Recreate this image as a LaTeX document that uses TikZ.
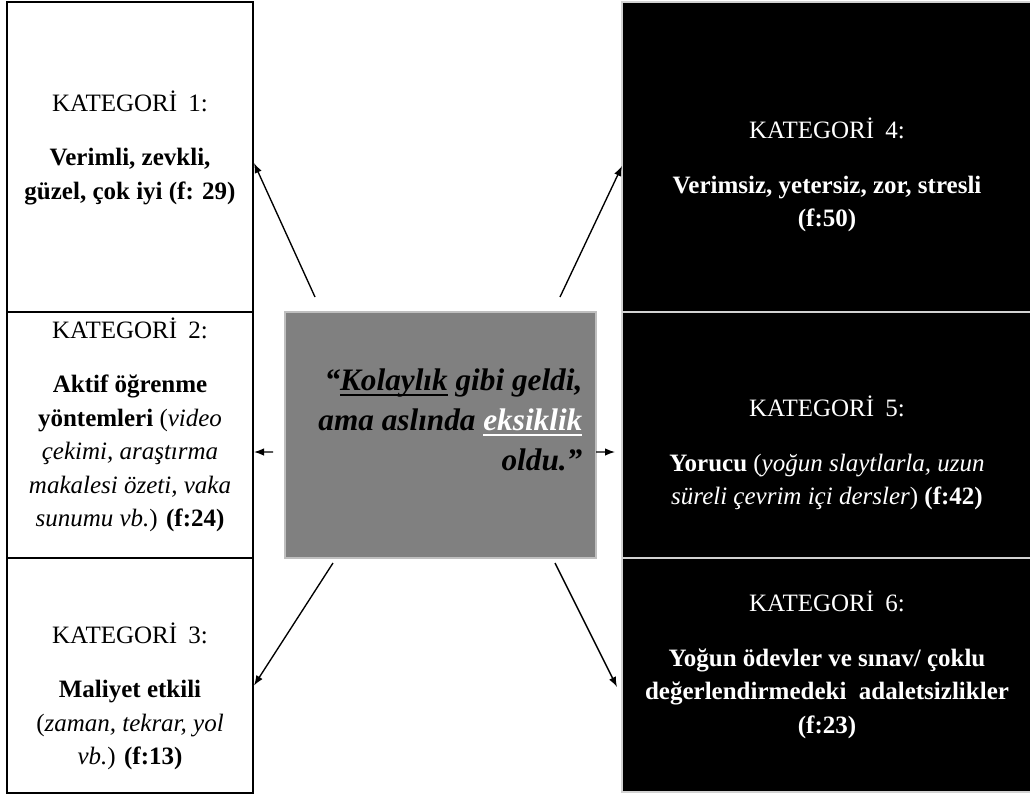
\documentclass[tikz,border=0pt]{standalone}
\usepackage{fontspec}
\setmainfont{Liberation Serif}
\usepackage{xcolor}
\usetikzlibrary{calc,positioning,arrows.meta}

\newcommand{\kat}[1]{KATEGORİ\hspace{0.45em}#1:\\[10pt]}
\newsavebox{\ulbox}
\newcommand{\thickul}[1]{\sbox{\ulbox}{#1}\rlap{\usebox{\ulbox}}\rule[-2.8pt]{\wd\ulbox}{1.1pt}}

\begin{document}
\begin{tikzpicture}[x=0.48pt,y=-0.48pt,>={Latex[length=4.8pt,width=3.6pt]},line width=0.65pt]
  \tikzstyle{lbox}=[draw=black,line width=0.8pt,fill=white,minimum width=118.08pt,inner sep=0pt,outer sep=0pt]
  \tikzstyle{rbox}=[draw=gray!35,line width=0.8pt,fill=black,minimum width=196.8pt,inner sep=0pt,outer sep=0pt]
  \tikzstyle{btext}=[align=center,font=\fontsize{12}{16.1}\selectfont,inner sep=0pt]
  \useasboundingbox (0,0) rectangle (1030,795);
  % left column
  \node[lbox,minimum height=148.8pt,anchor=north west] (k1) at (7,2) {};
  \node[lbox,minimum height=118.08pt] (k2) [below=0pt of k1] {};
  \node[lbox,minimum height=112.8pt] (k3) [below=0pt of k2] {};
  % right column
  \node[rbox,minimum height=148.8pt,anchor=north west] (k4) at (622,2) {};
  \node[rbox,minimum height=118.08pt] (k5) [below=0pt of k4] {};
  \node[rbox,minimum height=112.32pt] (k6) [below=0pt of k5] {};
  % middle
  \node[draw=gray!50,fill=gray,minimum width=149.28pt,minimum height=118.08pt,inner sep=0pt,outer sep=0pt] (c) at (440.5,435) {};
  \node[align=right,font=\fontsize{15}{19.2}\selectfont\bfseries\itshape,inner sep=0pt,anchor=east] (q) at ($(c.east)+(-13,-15)$)
    {“\thickul{Kolaylık} gibi geldi,\\ama aslında {\color{white}\thickul{eksiklik}}\\oldu.”};

  \node[btext] (t1) at ($(k1.center)+(0,-9)$) {\kat{1}\textbf{Verimli, zevkli,}\\\textbf{güzel, çok iyi (f: 29)}};
  \node[btext] (t2) at ($(k2.center)+(0,-10)$) {\kat{2}\textbf{Aktif öğrenme}\\\textbf{yöntemleri} (\textit{video}\\\textit{çekimi, araştırma}\\\textit{makalesi özeti, vaka}\\\textit{sunumu vb.}) \textbf{(f:24)}};
  \node[btext] (t3) at ($(k3.center)+(0,21)$) {\kat{3}\textbf{Maliyet etkili}\\(\textit{zaman, tekrar, yol}\\\textit{vb.}) \textbf{(f:13)}};
  \node[btext,text=white] (t4) at ($(k4.center)+(0,18)$) {\kat{4}\textbf{Verimsiz, yetersiz, zor, stresli}\\\textbf{(f:50)}};
  \node[btext,text=white] (t5) at ($(k5.center)+(0,18)$) {\kat{5}\textbf{Yorucu} (\textit{yoğun slaytlarla, uzun}\\\textit{süreli çevrim içi dersler}) \textbf{(f:42)}};
  \node[btext,text=white] (t6) at ($(k6.center)+(0,-10)$) {\kat{6}\textbf{Yoğun ödevler ve sınav/ çoklu}\\\textbf{değerlendirmedeki\ \ adaletsizlikler}\\\textbf{(f:23)}};

  % arrows
  \coordinate (a1) at ($(c.north west)+(30,-15)$);
  \coordinate (a2) at ($(c.west)+(-12,17)$);
  \coordinate (a3) at ($(c.south west)+(48,5)$);
  \coordinate (a4) at ($(c.north east)+(-36,-15)$);
  \coordinate (a5) at ($(c.east)+(0,17)$);
  \coordinate (a6) at ($(c.south east)+(-41,5)$);
  \draw[->] (a1) -- ($(k1.east)+(1,6)$);
  \draw[->] (a2) -- ($(k2.east)+(1,17)$);
  \draw[->] (a3) -- ($(k3.east)+(1,10)$);
  \draw[->] (a4) -- ($(k4.west)+(0,9)$);
  \draw[->] (a5) -- ($(k5.west)+(-7,17)$);
  \draw[->] (a6) -- ($(k6.west)+(-5,12)$);
\end{tikzpicture}
\end{document}
